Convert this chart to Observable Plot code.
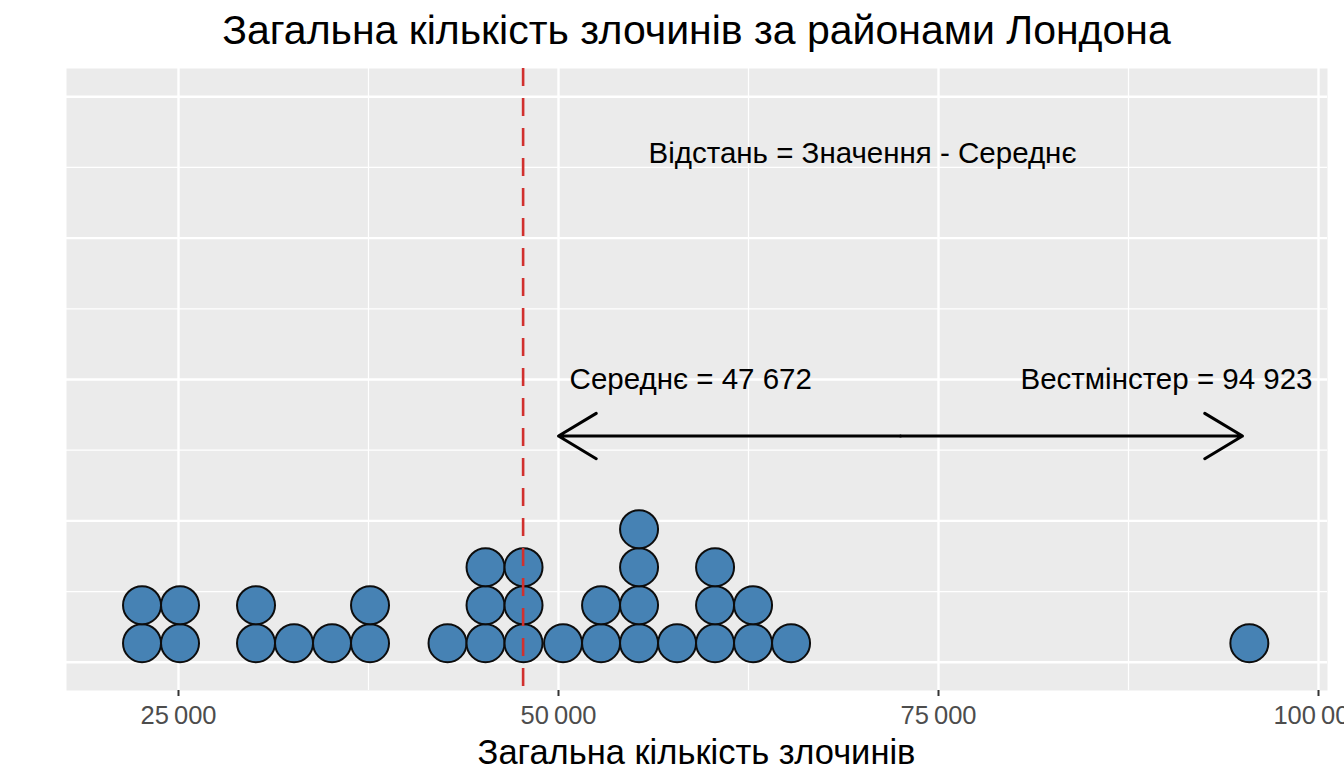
<!DOCTYPE html>
<html><head><meta charset="utf-8">
<script src="https://cdn.jsdelivr.net/npm/d3@7"></script>
<script src="https://cdn.jsdelivr.net/npm/@observablehq/plot@0.6"></script>
<style>
html,body{margin:0;padding:0;background:#fff;overflow:hidden;width:1344px;height:784px;font-family:"Liberation Sans",Arial,sans-serif;}
#title{position:absolute;left:66px;width:1261px;top:4px;height:52px;line-height:52px;text-align:center;font-size:41px;color:#000;white-space:nowrap;}
#chart{position:absolute;left:0;top:60px;}
#xtitle{position:absolute;left:66px;width:1261px;top:732px;height:40px;line-height:40px;text-align:center;font-size:34.5px;color:#000;white-space:nowrap;}
</style></head><body>
<div id="title">Загальна кількість злочинів за районами Лондона</div>
<div id="chart"></div>
<div id="xtitle">Загальна кількість злочинів</div>
<script>
// Dot-plot bins (bin centre, number of boroughs stacked in the bin)
const binCenters = [22600, 25100, 30100, 32600, 35100, 37600, 42700, 45200, 47700, 50300, 52800, 55300, 57800, 60300, 62800, 65300, 95450];
const binCounts  = [2, 2, 2, 1, 1, 2, 1, 3, 3, 1, 2, 4, 1, 3, 2, 1, 1];
const meanValue = 47672;
const westminsterValue = 94923;
const xMajorTicks = [25000, 50000, 75000, 100000];
const xMinorTicks = [37500, 62500, 87500];
const yMajorTicks = [0, 0.25, 0.5, 0.75, 1];
const yMinorTicks = [0.125, 0.375, 0.625, 0.875];
const annotationX = [70000, 58700, 90000];
const annotationY = [0.9, 0.5, 0.5];
const annotationText = ["Відстань = Значення - Середнє", "Середнє = 47 672", "Вестмінстер = 94 923"];
const arrowFrom = 50000, arrowTo = 95000, arrowY = 0.4;

const dotStep = 0.0672; // one dot diameter in y units
const dots = binCenters.flatMap((c, i) => d3.range(binCounts[i]).map(k => ({x: c, y: (k + 0.5) * dotStep})));
const annotations = annotationText.map((t, i) => ({x: annotationX[i], y: annotationY[i], text: t}));
const mid = (arrowFrom + arrowTo) / 2;
const arrows = [{x1: mid, x2: arrowFrom, y: arrowY}, {x1: mid, x2: arrowTo, y: arrowY}];
const fmt = d => d3.format(",")(d).replace(/,/g, "\u2009");

const chart = Plot.plot({
  width: 1344, height: 724,
  marginLeft: 66, marginRight: 17, marginTop: 8, marginBottom: 94,
  x: {domain: [17632, 100592]},
  y: {domain: [-0.05, 1.05], axis: null},
  style: {fontFamily: "'Liberation Sans', Arial, sans-serif", background: "transparent", overflow: "visible"},
  marks: [
    Plot.frame({fill: "#EBEBEB", stroke: "none"}),
    Plot.ruleX(xMinorTicks, {stroke: "#fff", strokeWidth: 1.2}),
    Plot.ruleY(yMinorTicks, {stroke: "#fff", strokeWidth: 1.2}),
    Plot.ruleX(xMajorTicks, {stroke: "#fff", strokeWidth: 2.4}),
    Plot.ruleY(yMajorTicks, {stroke: "#fff", strokeWidth: 2.4}),
    Plot.dot(dots, {x: "x", y: "y", r: 19, fill: "#4682B4", stroke: "#0d0d0d", strokeWidth: 2}),
    Plot.ruleX([meanValue], {stroke: "#D1302E", strokeWidth: 2.6, strokeDasharray: "18,12"}),
    Plot.arrow(arrows, {x1: "x1", x2: "x2", y1: "y", y2: "y", stroke: "#000", strokeWidth: 3, headLength: 22, headAngle: 62}),
    Plot.text(annotations, {x: "x", y: "y", text: "text", fontSize: 29.5, fill: "#000", textAnchor: "middle"}),
    Plot.axisX(xMajorTicks, {tickFormat: fmt, fontSize: 25.5, fill: "#4D4D4D", stroke: "#333", strokeWidth: 2, tickSize: 6, tickPadding: 9, label: null})
  ]
});
document.getElementById("chart").appendChild(chart);
</script>
</body></html>
